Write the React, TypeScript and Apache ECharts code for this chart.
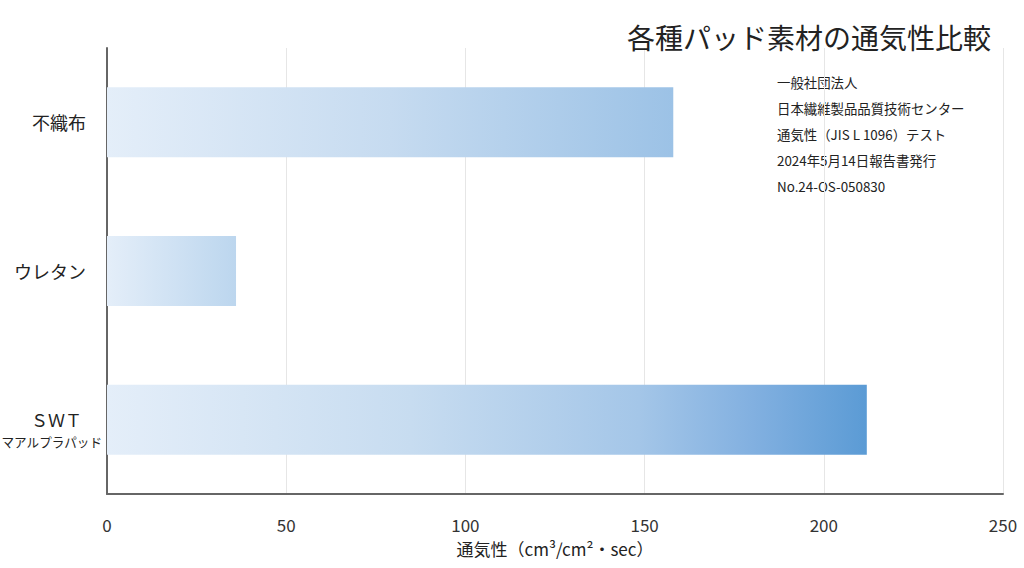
import React, { useEffect, useRef } from "react";
import * as echarts from "echarts";

const categories = ["不織布", "ウレタン", "SWT"];
const values = [158, 36, 212];
const xTicks = [0, 50, 100, 150, 200, 250];
const titleText = "各種パッド素材の通気性比較";
const noteLines = [
  "一般社団法人",
  "日本繊維製品品質技術センター",
  "通気性（JIS L 1096）テスト",
  "2024年5月14日報告書発行",
  "No.24-OS-050830",
];
const xAxisName = "通気性（cm³/cm²・sec）";
const swtSubLabel = "マアルプラパッド";

const FONT = '"Noto Sans CJK JP", "Noto Sans", sans-serif';

const gradientStops: Array<Array<[number, string]>> = [
  [
    [0, "#e4eef9"],
    [0.5, "#c6dbf0"],
    [1, "#9cc2e6"],
  ],
  [
    [0, "#e4eef9"],
    [1, "#bcd6ee"],
  ],
  [
    [0, "#e4eef9"],
    [0.4, "#c7dcf0"],
    [0.7, "#a4c6e8"],
    [0.85, "#82b0e0"],
    [1, "#5b9bd5"],
  ],
];

export default function App() {
  const ref = useRef<HTMLDivElement>(null);
  useEffect(() => {
    if (!ref.current) return;
    const chart = echarts.init(ref.current, null, { renderer: "svg" });
    const data = values.map((v, i) => ({
      value: v,
      itemStyle: {
        color: new echarts.graphic.LinearGradient(
          0,
          0,
          1,
          0,
          gradientStops[i].map(([o, c]) => ({ offset: o, color: c }))
        ),
      },
    }));
    chart.setOption({
      animation: false,
      backgroundColor: "#ffffff",
      textStyle: { fontFamily: FONT },
      title: {
        text: titleText,
        right: 28,
        top: 18,
        textStyle: {
          fontFamily: FONT,
          fontSize: 28,
          fontWeight: "normal",
          color: "#222222",
        },
      },
      grid: {
        left: 107,
        right: 21,
        top: 48,
        bottom: 74,
        containLabel: false,
        outerBoundsMode: "none",
      },
      xAxis: {
        type: "value",
        min: xTicks[0],
        max: xTicks[xTicks.length - 1],
        interval: 50,
        name: xAxisName,
        nameLocation: "middle",
        nameGap: 46,
        nameTextStyle: { fontFamily: FONT, fontSize: 17, color: "#222222" },
        axisLine: { show: true, lineStyle: { color: "#666666", width: 2 } },
        axisTick: { show: false },
        axisLabel: {
          margin: 22,
          fontSize: 17,
          color: "#333333",
          fontFamily: FONT,
        },
        splitLine: { show: true, lineStyle: { color: "#e6e6e6", width: 1 } },
      },
      yAxis: {
        type: "category",
        data: categories,
        inverse: true,
        axisLine: { show: true, lineStyle: { color: "#666666", width: 2 } },
        axisTick: { show: false },
        splitLine: { show: false },
        axisLabel: {
          margin: 5,
          color: "#222222",
          fontFamily: FONT,
          fontSize: 18,
          formatter: (v: string) =>
            v === "SWT"
              ? "{s| }\n{a|ＳＷＴ}\n{b|" + swtSubLabel + "}"
              : "{c|" + v + "}",
          rich: {
            s: { fontSize: 10, lineHeight: 22, fontFamily: FONT },
            a: {
              fontSize: 17,
              lineHeight: 22,
              fontFamily: FONT,
              color: "#222222",
              align: "right",
              padding: [0, 20, 0, 0],
            },
            b: {
              fontSize: 12.6,
              lineHeight: 22,
              fontFamily: FONT,
              color: "#222222",
              align: "right",
            },
            c: {
              fontSize: 18,
              fontFamily: FONT,
              color: "#222222",
              padding: [0, 16, 0, 0],
            },
          },
        },
      },
      series: [
        {
          type: "bar",
          data,
          barWidth: 70,
        },
      ],
      graphic: [
        {
          type: "text",
          left: 777,
          top: 69,
          style: {
            text: noteLines.join("\n"),
            fontFamily: FONT,
            fontSize: 13.4,
            lineHeight: 26,
            fill: "#222222",
          },
        },
      ],
    });
    return () => chart.dispose();
  }, []);
  return (
    <div
      ref={ref}
      style={{ position: "fixed", left: 0, top: 0, width: 1024, height: 568 }}
    />
  );
}
